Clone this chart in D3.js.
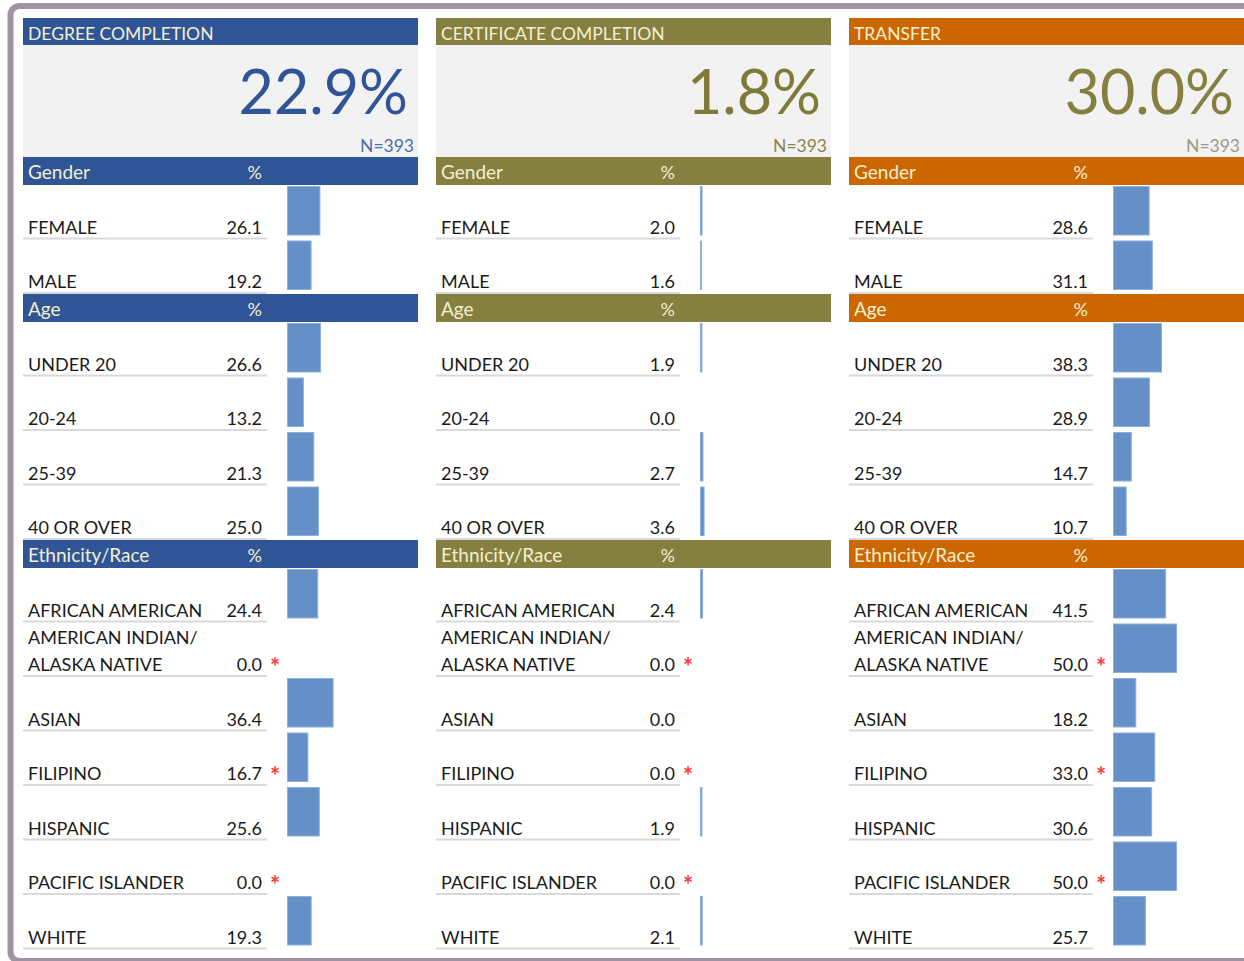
<!DOCTYPE html>
<html>
<head>
<meta charset="utf-8">
<script src="https://cdn.jsdelivr.net/npm/d3@7"></script>
<style>
  body { margin: 0; background: #fff; }
  svg text { font-family: Lato, "Open Sans", sans-serif; }
</style>
</head>
<body>
<div id="chart"></div>
<script>
(function() {

    var w = 1244;
    var h = 961;

    // panel data
    var panelTitles = ["DEGREE COMPLETION", "CERTIFICATE COMPLETION", "TRANSFER"];
    var overallRates = [22.9, 1.8, 30.0];
    var sampleSizes = [393, 393, 393];

    // rows
    var sectionNames = ["Gender", "Age", "Ethnicity/Race"];
    var genderLabels = ["FEMALE", "MALE"];
    var ageLabels = ["UNDER 20", "20-24", "25-39", "40 OR OVER"];
    var ethnicityLabels = ["AFRICAN AMERICAN", "AMERICAN INDIAN/\nALASKA NATIVE", "ASIAN", "FILIPINO", "HISPANIC", "PACIFIC ISLANDER", "WHITE"];
    var smallGroups = ["AMERICAN INDIAN/\nALASKA NATIVE", "FILIPINO", "PACIFIC ISLANDER"];

    // values, in row order gender, age, ethnicity
    var degreeValues = [26.1, 19.2, 26.6, 13.2, 21.3, 25.0, 24.4, 0.0, 36.4, 16.7, 25.6, 0.0, 19.3];
    var certificateValues = [2.0, 1.6, 1.9, 0.0, 2.7, 3.6, 2.4, 0.0, 0.0, 0.0, 1.9, 0.0, 2.1];
    var transferValues = [28.6, 31.1, 38.3, 28.9, 14.7, 10.7, 41.5, 50.0, 18.2, 33.0, 30.6, 50.0, 25.7];

    var panelValues = [degreeValues, certificateValues, transferValues];
    var bandColors = ["#2f5597", "#857f40", "#cc6600"];
    var bigColors = ["#2f5597", "#7f7a38", "#857f40"];
    var nColors = ["#4d6ea8", "#8a8550", "#9b9a88"];

    var sectionRows = [genderLabels, ageLabels, ethnicityLabels];

    var svg = d3.select("#chart")
        .append("svg")
        .attr("width", w)
        .attr("height", h);

    // outer frame
    svg.append("rect")
        .attr("x", 10.5)
        .attr("y", 6)
        .attr("width", 1300)
        .attr("height", 955)
        .attr("rx", 9)
        .attr("fill", "#fff")
        .attr("stroke", "#a093a3")
        .attr("stroke-width", 6);

    var xPanel = d3.scaleBand()
        .domain(panelTitles)
        .range([23, 1244])
        .paddingInner(0.0436);

    var pw = xPanel.bandwidth();

    var xBar = d3.scaleLinear()
        .domain([0, 50])
        .range([0, 64]);

    // build layout rows
    var headerH = 28;
    var rowH = 54.5;
    var layout = [];
    var y = 157;
    var k = 0;
    sectionNames.forEach(function(s, si) {
        layout.push({ type: "header", name: s, y: y });
        y += headerH;
        sectionRows[si].forEach(function(lbl) {
            layout.push({ type: "row", name: lbl, y: y, index: k });
            k++;
            y += rowH;
        });
    });

    panelTitles.forEach(function(title, pi) {

        var g = svg.append("g")
            .attr("transform", "translate(" + xPanel(title) + ",0)");
        var col = bandColors[pi];
        var vals = panelValues[pi];

        // title band
        g.append("rect")
            .attr("x", 0).attr("y", 18)
            .attr("width", pw).attr("height", 27)
            .attr("fill", col);
        g.append("text")
            .attr("x", 5).attr("y", 40)
            .attr("font-size", 17.5)
            .attr("fill", "#f3efcf")
            .text(title);

        // big number box
        g.append("rect")
            .attr("x", 0).attr("y", 45)
            .attr("width", pw).attr("height", 112)
            .attr("fill", "#f2f2f2");
        g.append("text")
            .attr("x", pw - 10).attr("y", 114)
            .attr("text-anchor", "end")
            .attr("font-size", 61)
            .attr("fill", bigColors[pi])
            .text(d3.format(".1f")(overallRates[pi]) + "%");
        g.append("text")
            .attr("x", pw - 4).attr("y", 152)
            .attr("text-anchor", "end")
            .attr("font-size", 17.5)
            .attr("fill", nColors[pi])
            .text("N=" + sampleSizes[pi]);

        // section headers
        var heads = g.selectAll(".head")
            .data(layout.filter(function(d) { return d.type === "header"; }))
            .enter().append("g");
        heads.append("rect")
            .attr("x", 0)
            .attr("y", function(d) { return d.y; })
            .attr("width", pw)
            .attr("height", headerH)
            .attr("fill", col);
        heads.append("text")
            .attr("x", 5)
            .attr("y", function(d) { return d.y + 22; })
            .attr("font-size", 19)
            .attr("fill", "#f3efcf")
            .text(function(d) { return d.name; });
        heads.append("text")
            .attr("x", 239)
            .attr("y", function(d) { return d.y + 22; })
            .attr("text-anchor", "end")
            .attr("font-size", 18)
            .attr("fill", "#f3efcf")
            .text("%");

        // data rows
        var rows = g.selectAll(".row")
            .data(layout.filter(function(d) { return d.type === "row"; }))
            .enter().append("g");

        rows.append("line")
            .attr("x1", 0).attr("x2", 244)
            .attr("y1", function(d) { return d.y + rowH - 1; })
            .attr("y2", function(d) { return d.y + rowH - 1; })
            .attr("stroke", "#d9d9d9")
            .attr("stroke-width", 2);

        rows.append("text")
            .attr("x", 5)
            .attr("y", function(d) { return d.y + rowH - 6; })
            .attr("font-size", 18)
            .attr("fill", "#1a1a1a")
            .each(function(d) {
                var lines = d.name.split("\n");
                var t = d3.select(this);
                lines.forEach(function(l, li) {
                    t.append("tspan")
                        .attr("x", 5)
                        .attr("dy", li === 0 ? (-(lines.length - 1) * 27) : 27)
                        .text(l);
                });
            });

        rows.append("text")
            .attr("x", 239)
            .attr("y", function(d) { return d.y + rowH - 6; })
            .attr("text-anchor", "end")
            .attr("font-size", 18)
            .attr("fill", "#1a1a1a")
            .text(function(d) { return d3.format(".1f")(vals[d.index]); });

        rows.filter(function(d) { return smallGroups.indexOf(d.name) >= 0; })
            .append("text")
            .attr("x", 247)
            .attr("y", function(d) { return d.y + rowH - 1; })
            .attr("font-size", 24)
            .attr("font-weight", "bold")
            .attr("fill", "#ff3b3b")
            .text("*");

        rows.filter(function(d) { return vals[d.index] > 0; })
            .append("rect")
            .attr("x", 264.5)
            .attr("y", function(d) { return d.y + 1.5; })
            .attr("width", function(d) { return Math.max(xBar(vals[d.index]) - 1, 1); })
            .attr("height", rowH - 6)
            .attr("fill", "#658fc7")
            .attr("stroke", "#8eb0dc")
            .attr("stroke-width", 1);
    });

})();
</script>
</body>
</html>
